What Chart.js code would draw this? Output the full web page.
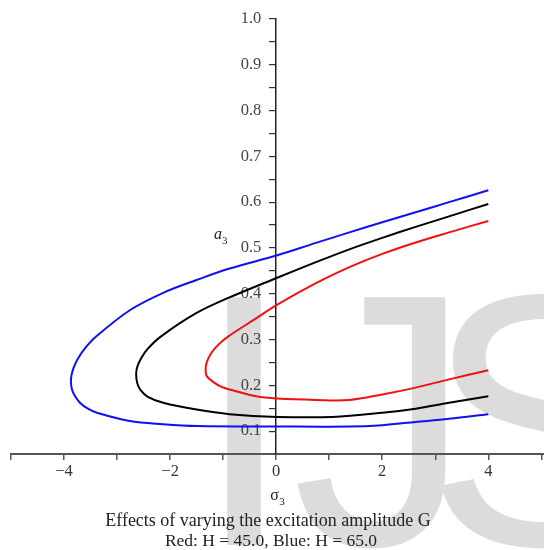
<!DOCTYPE html>
<html>
<head>
<meta charset="utf-8">
<script src="https://cdn.jsdelivr.net/npm/chart.js@4"></script>
<style>
  html, body { margin: 0; padding: 0; background: #fff; }
  #wrap { width: 544px; height: 550px; }
</style>
</head>
<body>
<div id="wrap"><canvas id="chart"></canvas></div>
<script>
// sigma_3 / a_3 pairs, traced from the lower right end round the tip to the upper right end
const blueSigma = [4.0, 3.26, 2.63, 2.0, 1.38, 0.02, -1.50, -2.13, -2.76, -3.38, -3.55, -3.70, -3.80, -3.85, -3.87, -3.86, -3.82, -3.75, -3.61, -3.39, -2.76, -2.13, -1.50, -0.88, 0.02, 0.75, 1.38, 2.0, 2.63, 3.26, 4.0];
const blueA = [0.137, 0.127, 0.120, 0.113, 0.110, 0.110, 0.111, 0.115, 0.122, 0.140, 0.149, 0.162, 0.178, 0.191, 0.206, 0.222, 0.238, 0.256, 0.280, 0.307, 0.364, 0.402, 0.430, 0.455, 0.484, 0.511, 0.534, 0.556, 0.578, 0.600, 0.626];

const blackSigma = [4.0, 3.26, 2.63, 2.0, 1.06, 0.02, -0.88, -1.50, -2.13, -2.42, -2.56, -2.62, -2.64, -2.62, -2.54, -2.42, -2.17, -1.50, -0.88, 0.02, 0.75, 1.38, 2.0, 2.63, 3.26, 4.0];
const blackA = [0.176, 0.162, 0.149, 0.140, 0.131, 0.131, 0.137, 0.147, 0.162, 0.175, 0.190, 0.205, 0.224, 0.240, 0.260, 0.280, 0.307, 0.358, 0.392, 0.435, 0.469, 0.497, 0.522, 0.546, 0.569, 0.596];

const redSigma = [4.0, 3.26, 2.63, 2.0, 1.38, 0.75, 0.02, -0.38, -0.88, -1.02, -1.17, -1.31, -1.33, -1.31, -1.22, -1.08, -0.90, -0.38, 0.02, 0.75, 1.38, 2.0, 2.63, 3.26, 4.0];
const redA = [0.233, 0.213, 0.195, 0.180, 0.168, 0.168, 0.171, 0.176, 0.191, 0.196, 0.206, 0.220, 0.235, 0.250, 0.271, 0.290, 0.307, 0.346, 0.376, 0.423, 0.458, 0.487, 0.512, 0.534, 0.559];

const xTicks = [-4, -2, 0, 2, 4];
const yTicks = [0.1, 0.2, 0.3, 0.4, 0.5, 0.6, 0.7, 0.8, 0.9, 1.0];
const captionLines = ['Effects of varying the excitation amplitude G', 'Red: H = 45.0, Blue: H = 65.0'];

const serif = "'Liberation Serif', 'Times New Roman', serif";

function pts(xs, ys) {
  return xs.map((x, i) => ({ x, y: ys[i] }));
}

function curve(label, color, xs, ys) {
  return {
    label,
    data: pts(xs, ys),
    showLine: true,
    borderColor: color,
    backgroundColor: color,
    borderWidth: 2,
    pointRadius: 0,
    tension: 0.35,
    fill: false,
  };
}

// big grey watermark behind everything
const watermark = {
  id: 'watermark',
  beforeDraw(chart) {
    const ctx = chart.ctx;
    ctx.save();
    ctx.fillStyle = '#dcdcdc';
    ctx.font = "360px 'Liberation Sans', Arial, sans-serif";
    ctx.textBaseline = 'alphabetic';
    ctx.fillText('I', 194, 545);
    ctx.fillText('J', 292, 545);
    ctx.fillText('S', 425, 545);
    ctx.restore();
  },
};

// axis names and the two caption lines under the plot
const labels = {
  id: 'labels',
  afterDraw(chart) {
    const ctx = chart.ctx;
    const xs = chart.scales.x;
    const ys = chart.scales.y;
    ctx.save();
    ctx.fillStyle = '#222';
    ctx.textBaseline = 'alphabetic';

    // a_3
    let px = xs.getPixelForValue(-1.17);
    let py = ys.getPixelForValue(0.52);
    ctx.font = 'italic 16px ' + serif;
    ctx.textAlign = 'left';
    ctx.fillText('a', px, py);
    ctx.font = '11px ' + serif;
    ctx.fillText('3', px + 8, py + 5);

    // sigma_3
    px = xs.getPixelForValue(0);
    ctx.font = '16px ' + serif;
    ctx.fillText('\u03c3', px - 6, 500);
    ctx.font = '11px ' + serif;
    ctx.fillText('3', px + 3, 505);

    ctx.font = '18px ' + serif;
    ctx.textAlign = 'center';
    ctx.fillText(captionLines[0], 268, 526);
    ctx.font = '17.5px ' + serif;
    ctx.fillText(captionLines[1], 271, 546);
    ctx.restore();
  },
};

const yTickLabel = v => {
  const t = Math.round(v * 10) / 10;
  return yTicks.includes(t) && Math.abs(v - t) < 1e-6 ? t.toFixed(1) : '';
};

new Chart(document.getElementById('chart'), {
  type: 'scatter',
  data: {
    datasets: [
      curve('Blue: H = 65.0', '#1010f0', blueSigma, blueA),
      curve('G', '#000000', blackSigma, blackA),
      curve('Red: H = 45.0', '#f01010', redSigma, redA),
    ],
  },
  options: {
    responsive: true,
    maintainAspectRatio: false,
    animation: false,
    layout: { padding: { left: 11, right: 0, top: 19, bottom: 0 } },
    plugins: {
      legend: { display: false },
      tooltip: { enabled: false },
    },
    scales: {
      x: {
        type: 'linear',
        min: -5,
        max: 5.05,
        afterFit(scale) { scale.height = 96; },
        border: { color: '#555', width: 2 },
        grid: { drawOnChartArea: false, tickLength: 6, color: '#555', lineWidth: 1.5 },
        ticks: {
          stepSize: 1,
          includeBounds: false,
          maxRotation: 0,
          autoSkip: false,
          padding: 2,
          color: '#333',
          font: { family: serif, size: 16.5 },
          callback: v => (xTicks.includes(v) ? (v < 0 ? '\u2212' + Math.abs(v) : String(v)) : ''),
        },
      },
      // the vertical axis line and its tick marks, crossing at sigma = 0
      y: {
        type: 'linear',
        position: { x: 0 },
        min: 0.05,
        max: 1.0,
        border: { color: '#222', width: 1.5 },
        grid: { drawOnChartArea: false, tickLength: 6, color: '#333', lineWidth: 1.2 },
        ticks: { stepSize: 0.05, includeBounds: false, autoSkip: false, display: false },
      },
      // same scale again, only for its labels, set a little left of the axis
      yLabels: {
        type: 'linear',
        position: { x: -0.28 },
        min: 0.05,
        max: 1.0,
        border: { display: false },
        grid: { display: false },
        ticks: {
          stepSize: 0.05,
          includeBounds: false,
          autoSkip: false,
          color: '#444',
          font: { family: serif, size: 16.5 },
          callback: yTickLabel,
        },
      },
    },
  },
  plugins: [watermark, labels],
});
</script>
</body>
</html>
